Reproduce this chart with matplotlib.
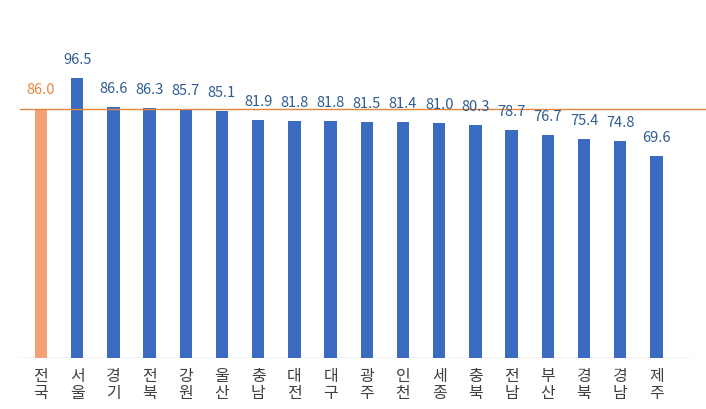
import matplotlib.pyplot as plt

plt.rcParams['font.family'] = ['Noto Sans CJK KR', 'DejaVu Sans']

regions = ['전국', '서울', '경기', '전북', '강원', '울산', '충남', '대전', '대구',
           '광주', '인천', '세종', '충북', '전남', '부산', '경북', '경남', '제주']
values = [86.0, 96.5, 86.6, 86.3, 85.7, 85.1, 81.9, 81.8, 81.8,
          81.5, 81.4, 81.0, 80.3, 78.7, 76.7, 75.4, 74.8, 69.6]

blue = '#3A6BC0'
label_blue = '#2F5C8F'
orange = '#F5A173'
line_orange = '#E8853D'

fig = plt.figure(figsize=(7.06, 4.09), dpi=100)
ax = fig.add_axes([0, 51/409, 1, 358/409])
ax.set_xlim(-41/36.2, (706-41)/36.2)
ax.set_ylim(0, 123.4)
ax.axis('off')

x = list(range(len(regions)))
colors = [orange] + [blue]*(len(regions)-1)
ax.bar(x, values, width=0.34, color=colors, zorder=2)

ax.axhline(values[0], xmin=20/706, xmax=1, color=line_orange, lw=1, zorder=3)
ax.axhline(0, xmin=20/706, xmax=690/706, color='#BFBFBF', lw=1, zorder=1)

for i, v in enumerate(values):
    c = line_orange if i == 0 else label_blue
    ax.annotate(f'{v:.1f}', (i, v), xytext=(0, 13), textcoords='offset points',
                ha='center', va='center', fontsize=10.5, color=c)
    ax.text(i, -3.5, '\n'.join(regions[i]), ha='center', va='top',
            fontsize=11.5, color='#404040', linespacing=1.0)

fig.savefig('out.png', dpi=100)
